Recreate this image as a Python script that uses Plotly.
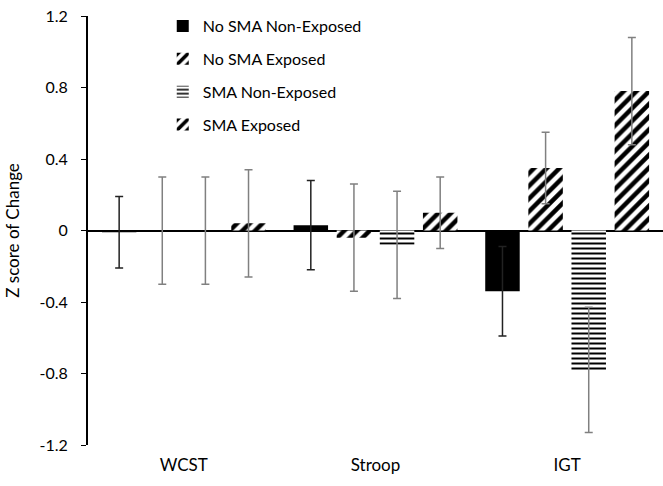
import plotly.graph_objects as go

categories = ["WCST", "Stroop", "IGT"]
series_names = ["No SMA Non-Exposed", "No SMA Exposed", "SMA Non-Exposed", "SMA Exposed"]
means = [
    [-0.01, 0.03, -0.34],
    [0.0, -0.04, 0.35],
    [0.0, -0.08, -0.78],
    [0.04, 0.10, 0.78],
]
errors = [
    [0.20, 0.25, 0.25],
    [0.30, 0.30, 0.20],
    [0.30, 0.30, 0.35],
    [0.30, 0.20, 0.30],
]
patterns = ["", "/", "-", "/"]
pattern_sizes = [8, 9, 5, 9]
pattern_solidity = [0.3, 0.5, 0.4, 0.5]
err_colors = ["#222222", "#808080", "#808080", "#808080"]
y_ticks = [1.2, 0.8, 0.4, 0, -0.4, -0.8, -1.2]
y_tick_text = ["1.2", "0.8", "0.4", "0", "-0.4", "-0.8", "-1.2"]

FONT = "Lato, Open Sans, sans-serif"

fig = go.Figure()
for i, name in enumerate(series_names):
    marker = dict(color="black" if patterns[i] == "" else "white", line=dict(width=0))
    if patterns[i]:
        marker["pattern"] = dict(shape=patterns[i], fgcolor="black", bgcolor="white",
                                 size=pattern_sizes[i], solidity=pattern_solidity[i],
                                 fgopacity=1)
    fig.add_trace(go.Bar(
        x=categories, y=means[i], name=name, marker=marker,
        legendgroup=f"g{i}",
        error_y=dict(type="data", array=errors[i], color=err_colors[i],
                     thickness=1.5, width=4, visible=True),
    ))

fig.update_layout(
    width=663, height=486,
    margin=dict(l=88, r=0, t=16, b=41),
    paper_bgcolor="white", plot_bgcolor="white",
    barmode="group", bargap=0.1, bargroupgap=0.2,
    font=dict(family=FONT, size=16, color="black"),
    legend=dict(x=0.13, y=1.016, xanchor="left", yanchor="top",
                bgcolor="rgba(0,0,0,0)", tracegroupgap=9,
                font=dict(size=16), itemwidth=30),
    showlegend=True,
)
fig.update_xaxes(showline=False, ticks="", showgrid=False,
                 tickfont=dict(size=17), ticklabelstandoff=8)
fig.update_yaxes(range=[-1.2, 1.2], tickvals=y_ticks, ticktext=y_tick_text,
                 showgrid=False, showline=True, linecolor="black", linewidth=2,
                 ticks="outside", ticklen=5, tickcolor="black", tickwidth=1,
                 zeroline=True, zerolinecolor="black", zerolinewidth=2,
                 ticklabelstandoff=10,
                 title=dict(text="Z score of Change", font=dict(size=17), standoff=16),
                 tickfont=dict(size=16))

fig.write_html("out.html")
